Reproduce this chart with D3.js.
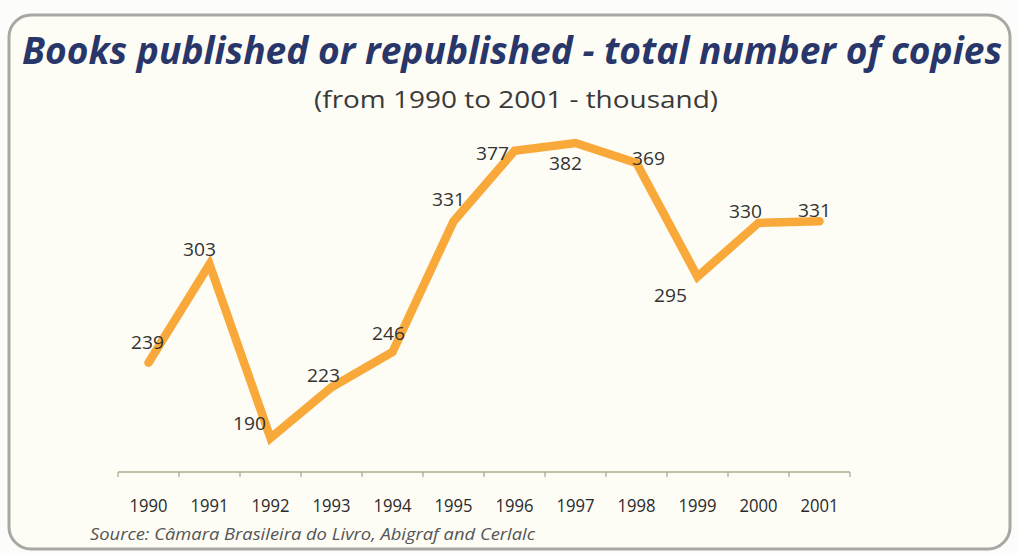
<!DOCTYPE html>
<html><head><meta charset="utf-8">
<script src="https://cdn.jsdelivr.net/npm/d3@7"></script>
<style>
html,body{margin:0;padding:0;background:#ffffff;}
svg{display:block;}
</style></head>
<body>
<script>
const years = ["1990","1991","1992","1993","1994","1995","1996","1997","1998","1999","2000","2001"];
const copies = [239,303,190,223,246,331,377,382,369,295,330,331];
const labelDx = [-1,-10,-21,-8,-4,-5,-22,-10,12,-27,-13,-5];
const labelDy = [-14,-8,-8,-5,-12,-15,9,27,2,25,-5,-4];

const W = 1017, H = 553;
const svg = d3.select("body").append("svg").attr("width", W).attr("height", H);

svg.append("rect").attr("x",0).attr("y",0).attr("width",W).attr("height",H).attr("fill","#fcfcfa");
svg.append("rect").attr("x",9).attr("y",15).attr("width",1001).attr("height",534)
  .attr("rx",22).attr("ry",22).attr("fill","#fdfcf5").attr("stroke","#a9a7a3").attr("stroke-width",3);

svg.append("text").attr("x",512).attr("y",64).attr("text-anchor","middle")
  .attr("font-family","Open Sans").attr("font-weight","bold").attr("font-style","italic")
  .attr("font-size",37).attr("fill","#28366a")
  .attr("textLength",980).attr("lengthAdjust","spacingAndGlyphs")
  .text("Books published or republished - total number of copies");

svg.append("text").attr("x",516).attr("y",108).attr("text-anchor","middle")
  .attr("font-family","Open Sans").attr("font-size",24).attr("fill","#3a3a3a")
  .attr("textLength",404).attr("lengthAdjust","spacingAndGlyphs")
  .text("(from 1990 to 2001 - thousand)");

const x = d3.scaleBand().domain(years).range([118,850]).padding(0);
const y = d3.scaleLinear().domain([190,382]).range([438,143]);

// axis
const axisG = svg.append("g").attr("transform","translate(0,472)");
axisG.append("line").attr("x1",118).attr("x2",850).attr("y1",0).attr("y2",0)
  .attr("stroke","#b3ad92").attr("stroke-width",1.5);
const bounds = years.map(d => x(d)).concat([x(years[years.length-1]) + x.bandwidth()]);
axisG.selectAll("line.tick").data(bounds).enter().append("line").attr("class","tick")
  .attr("x1",d=>d).attr("x2",d=>d).attr("y1",0).attr("y2",5)
  .attr("stroke","#a9a48e").attr("stroke-width",1.2);
axisG.selectAll("text").data(years).enter().append("text")
  .attr("x",d=>x(d)+x.bandwidth()/2).attr("y",40).attr("text-anchor","middle")
  .attr("font-family","Open Sans").attr("font-size",18).attr("fill","#2a2a2a")
  .attr("textLength",38).attr("lengthAdjust","spacingAndGlyphs")
  .text(d=>d);

const line = d3.line().x((d,i)=>x(years[i])+x.bandwidth()/2).y(d=>y(d));
svg.append("path").datum(copies).attr("d",line).attr("fill","none")
  .attr("stroke","#f8a93a").attr("stroke-width",8.5).attr("stroke-linejoin","miter").attr("stroke-linecap","round");

svg.selectAll("text.val").data(copies).enter().append("text").attr("class","val")
  .attr("x",(d,i)=>x(years[i])+x.bandwidth()/2+labelDx[i])
  .attr("y",(d,i)=>y(d)+labelDy[i]).attr("text-anchor","middle")
  .attr("font-family","Open Sans").attr("font-size",18).attr("fill","#333333")
  .attr("textLength",33).attr("lengthAdjust","spacingAndGlyphs")
  .text(d=>d);

svg.append("text").attr("x",90).attr("y",540)
  .attr("font-family","Open Sans").attr("font-style","italic").attr("font-size",16).attr("fill","#555555")
  .attr("textLength",445).attr("lengthAdjust","spacingAndGlyphs")
  .text("Source: Câmara Brasileira do Livro, Abigraf and Cerlalc");
</script>
</body></html>
